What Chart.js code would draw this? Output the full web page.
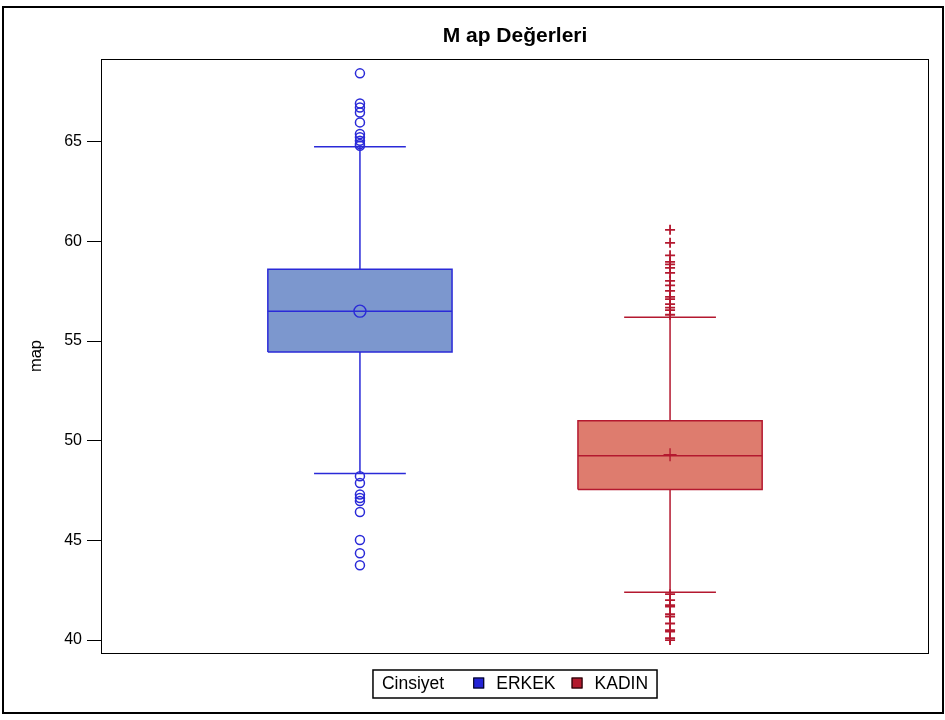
<!DOCTYPE html>
<html>
<head>
<meta charset="utf-8">
<script src="https://cdn.jsdelivr.net/npm/chart.js@4.4.0/dist/chart.umd.min.js"></script>
<style>
  html, body { margin: 0; padding: 0; background: #fff; }
</style>
</head>
<body>
<canvas id="grafico" width="945" height="720"></canvas>
<script>
// Veriler (okunan değerler)
const groups = ["ERKEK", "KADIN"];
const groupPos = [1, 2];
const q1 = [54.45, 47.55];
const median = [56.5, 49.25];
const q3 = [58.6, 51.0];
const mean = [56.5, 49.3];
const whiskerLow = [48.35, 42.4];
const whiskerHigh = [64.75, 56.2];
const outliersErkek = [68.43, 66.92, 66.72, 66.47, 65.97, 65.39, 65.22, 65.05, 64.89, 64.8,
  48.22, 47.88, 47.3, 47.13, 46.97, 46.42, 45.02, 44.35, 43.75];
const outliersKadin = [60.58, 59.93, 59.3, 58.97, 58.85, 58.67, 58.42, 58.02, 57.79, 57.52,
  57.22, 57.1, 56.85, 56.68, 56.55, 56.32,
  42.3, 42.0, 41.75, 41.68, 41.3, 41.18, 40.83, 40.5, 40.42, 40.1, 40.0];
const yTicks = [40, 45, 50, 55, 60, 65];

const lineColors = ["#2a2ad8", "#b4182f"];
const fillColors = ["#7c97ce", "#de7c6e"];
const legendColors = ["#2323d6", "#b3192d"];
const boxHalf = 0.297;
const capHalf = 0.148;

Chart.defaults.font.family = "'Liberation Sans', Arial, sans-serif";
Chart.defaults.color = "#000";

function boxDatasets(i, outliers, style) {
  const c = groupPos[i];
  const col = lineColors[i];
  const gap = { x: c, y: null };
  const base = { type: "line", borderColor: col, pointRadius: 0, fill: false, borderWidth: 1.5 };
  return [
    Object.assign({}, base, {
      label: groups[i] + " kutu",
      data: [
        { x: c - boxHalf, y: q1[i] }, { x: c + boxHalf, y: q1[i] },
        { x: c + boxHalf, y: q3[i] }, { x: c - boxHalf, y: q3[i] },
        { x: c - boxHalf, y: q1[i] }
      ],
      backgroundColor: fillColors[i],
      fill: "shape",
      order: 5
    }),
    Object.assign({}, base, {
      label: groups[i] + " medyan",
      data: [{ x: c - boxHalf, y: median[i] }, { x: c + boxHalf, y: median[i] }],
      order: 4
    }),
    Object.assign({}, base, {
      label: groups[i] + " bıyık",
      data: [
        { x: c - capHalf, y: whiskerHigh[i] }, { x: c + capHalf, y: whiskerHigh[i] }, gap,
        { x: c, y: whiskerHigh[i] }, { x: c, y: q3[i] }, gap,
        { x: c, y: q1[i] }, { x: c, y: whiskerLow[i] }, gap,
        { x: c - capHalf, y: whiskerLow[i] }, { x: c + capHalf, y: whiskerLow[i] }
      ],
      order: 4
    }),
    {
      type: "line",
      label: groups[i] + " aykırı",
      data: outliers.map(v => ({ x: c, y: v })),
      showLine: false,
      pointStyle: style,
      pointRadius: style === "circle" ? 4.5 : 5,
      pointBorderColor: col,
      pointBackgroundColor: "rgba(0,0,0,0)",
      pointBorderWidth: style === "circle" ? 1.5 : 1.8,
      order: 2
    },
    {
      type: "line",
      label: groups[i] + " ortalama",
      data: [{ x: c, y: mean[i] }],
      showLine: false,
      pointStyle: style,
      pointRadius: style === "circle" ? 6 : 6.5,
      pointBorderColor: col,
      pointBackgroundColor: "rgba(0,0,0,0)",
      pointBorderWidth: 1.4,
      order: 1
    }
  ];
}

// Çerçeveler
const frames = {
  id: "frames",
  beforeDraw(chart) {
    const ctx = chart.ctx;
    ctx.save();
    ctx.fillStyle = "#fff";
    ctx.fillRect(0, 0, chart.width, chart.height);
    ctx.strokeStyle = "#000";
    ctx.lineWidth = 2;
    ctx.strokeRect(3, 7, 940, 706);
    ctx.restore();
  },
  afterDraw(chart) {
    const a = chart.chartArea;
    const ctx = chart.ctx;
    ctx.save();
    ctx.strokeStyle = "#000";
    ctx.lineWidth = 1;
    ctx.strokeRect(a.left + 0.5, a.top + 0.5, a.right - a.left - 1, a.bottom - a.top);
    ctx.restore();
  }
};

// Alt gösterge
const boxLegend = {
  id: "boxLegend",
  afterDraw(chart) {
    const a = chart.chartArea;
    const ctx = chart.ctx;
    ctx.save();
    ctx.font = "17.5px 'Liberation Sans', Arial, sans-serif";
    ctx.textBaseline = "middle";
    const sw = 11;
    const items = [{ text: "Cinsiyet" }].concat(groups.map((g, i) => ({ text: g, color: legendColors[i] })));
    const gaps = [29, 16];
    let total = 18 + gaps[0] + gaps[1];
    items.forEach(it => {
      it.w = ctx.measureText(it.text).width;
      total += it.w + (it.color ? sw + 12 : 0);
    });
    const cx = (a.left + a.right) / 2;
    const cy = 684;
    let x = cx - total / 2;
    ctx.strokeStyle = "#000";
    ctx.lineWidth = 1.5;
    ctx.strokeRect(x, 670, total, 28);
    x += 9;
    items.forEach((it, k) => {
      if (it.color) {
        ctx.fillStyle = it.color;
        ctx.fillRect(x, cy - sw / 2 - 1, sw, sw);
        ctx.strokeStyle = "#000";
        ctx.lineWidth = 1;
        ctx.strokeRect(x + 0.5, cy - sw / 2 - 0.5, sw - 1, sw - 1);
        x += sw + 12;
      }
      ctx.fillStyle = "#000";
      ctx.fillText(it.text, x, cy);
      x += it.w;
      if (k < gaps.length) x += gaps[k];
    });
    ctx.restore();
  }
};

const ctx = document.getElementById("grafico").getContext("2d");
new Chart(ctx, {
  type: "line",
  data: {
    datasets: boxDatasets(0, outliersErkek, "circle").concat(boxDatasets(1, outliersKadin, "cross"))
  },
  options: {
    responsive: false,
    animation: false,
    events: [],
    layout: { padding: { left: 10, right: 16, top: 0, bottom: 67 } },
    scales: {
      x: {
        type: "linear",
        min: 0.165,
        max: 2.835,
        display: false
      },
      y: {
        type: "linear",
        min: 39.35,
        max: 69.15,
        afterBuildTicks: s => { s.ticks = yTicks.map(v => ({ value: v })); },
        afterFit: s => { s.width = 91; },
        ticks: { font: { size: 16 }, color: "#000", padding: 5 },
        grid: { drawOnChartArea: false, tickLength: 14, color: "#000" },
        border: { color: "#000", width: 1 },
        title: { display: true, text: "map", font: { size: 16.5 }, color: "#000", padding: { top: 17, bottom: 0 } }
      }
    },
    plugins: {
      legend: { display: false },
      tooltip: { enabled: false },
      title: {
        display: true,
        fullSize: false,
        text: "M ap Değerleri",
        font: { size: 21, weight: "bold" },
        color: "#000",
        padding: { top: 23.4, bottom: 10.4 }
      }
    }
  },
  plugins: [frames, boxLegend]
});
</script>
</body>
</html>
